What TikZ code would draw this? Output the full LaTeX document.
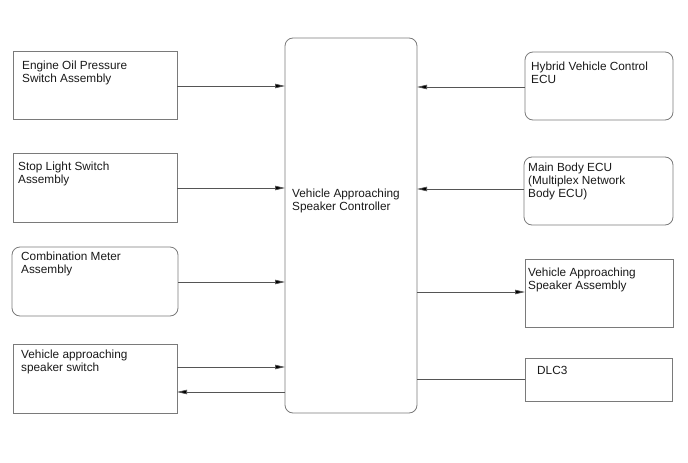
\documentclass[tikz,border=0pt]{standalone}
\usepackage{fontspec}
\setmainfont{Liberation Sans}
\usetikzlibrary{arrows.meta}
\definecolor{boxgray}{HTML}{7A7A7A}
\definecolor{linegray}{HTML}{555555}
\tikzset{
  box/.style={draw=boxgray, line width=0.8pt, anchor=north west, inner sep=0pt, outer sep=0pt},
  rbox/.style={box, rounded corners=8pt},
  txt/.style={anchor=base west, inner sep=0pt, align=left, text=black!90, font=\fontsize{11.8}{13.2}\selectfont},
  arr/.style={draw=linegray, line width=0.7pt, -{Triangle[length=10pt,width=4.5pt,fill=black]}},
  ln/.style={draw=linegray, line width=0.7pt}
}
\begin{document}
\begin{tikzpicture}[x=1pt,y=-1pt]
\useasboundingbox (0,0) rectangle (688,463);
% left boxes
\node[box, minimum width=164pt, minimum height=68pt] (eng) at (13,51) {};
\node[box, minimum width=164pt, minimum height=69pt] (stop) at (13,153) {};
\node[rbox, minimum width=166pt, minimum height=69pt] (comb) at (12,247) {};
\node[box, minimum width=164pt, minimum height=69pt] (sw) at (13,344) {};
% center
\node[rbox, minimum width=132pt, minimum height=375pt] (ctrl) at (285,38) {};
% right boxes
\node[rbox, minimum width=148pt, minimum height=68pt] (hv) at (525,52) {};
\node[rbox, minimum width=149pt, minimum height=68pt] (mb) at (524,157) {};
\node[box, minimum width=148pt, minimum height=68pt] (spk) at (525,259) {};
\node[box, minimum width=147pt, minimum height=43pt] (dlc) at (525,358) {};
% texts (anchor = baseline of the last line)
\node[txt] (tEng) at (22,82.2) {Engine Oil Pressure\\Switch Assembly};
\node[txt] (tStop) at (18,183.2) {Stop Light Switch\\Assembly};
\node[txt] (tComb) at (21,273.2) {Combination Meter\\Assembly};
\node[txt] (tSw) at (21,371.2) {Vehicle approaching\\speaker switch};
\node[txt] (tCtrl) at (292,210.2) {Vehicle Approaching\\Speaker Controller};
\node[txt] (tHv) at (531,83.2) {Hybrid Vehicle Control\\ECU};
\node[txt] (tMb) at (528,197.4) {Main Body ECU\\(Multiplex Network\\Body ECU)};
\node[txt] (tSpk) at (528,289.2) {Vehicle Approaching\\Speaker Assembly};
\node[txt] (tDlc) at (537,374) {DLC3};
% connectors
\coordinate (yEng) at (0,86);
\coordinate (yStop) at (0,188);
\coordinate (yComb) at (0,282);
\coordinate (ySw1) at (0,367);
\coordinate (ySw2) at (0,392);
\coordinate (yHv) at (0,87);
\coordinate (yMb) at (0,189);
\coordinate (ySpk) at (0,292);
\coordinate (yDlc) at (0,379);
\draw[arr] (eng.east |- yEng) -- (ctrl.west |- yEng);
\draw[arr] (stop.east |- yStop) -- (ctrl.west |- yStop);
\draw[arr] (comb.east |- yComb) -- (ctrl.west |- yComb);
\draw[arr] (sw.east |- ySw1) -- (ctrl.west |- ySw1);
\draw[arr] (ctrl.west |- ySw2) -- (sw.east |- ySw2);
\draw[arr] (hv.west |- yHv) -- (ctrl.east |- yHv);
\draw[arr] (mb.west |- yMb) -- (ctrl.east |- yMb);
\draw[arr] (ctrl.east |- ySpk) -- (spk.west |- ySpk);
\draw[ln] (ctrl.east |- yDlc) -- (dlc.west |- yDlc);
\end{tikzpicture}
\end{document}
